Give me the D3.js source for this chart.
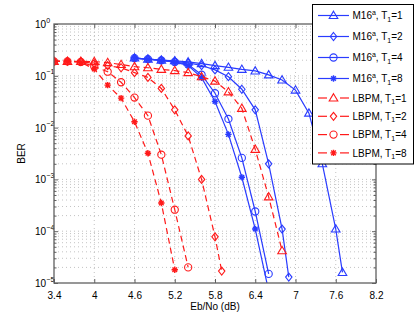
<!DOCTYPE html>
<html>
<head>
<meta charset="utf-8">
<script src="https://cdn.jsdelivr.net/npm/d3@7"></script>
<style>
  body { margin: 0; background: #fff; }
  text { font-family: "Liberation Sans", Arial, sans-serif; fill: #000; }
</style>
</head>
<body>
<svg id="chart" width="415" height="319"></svg>
<script>
// ---- data ----
var xTicks = [3.4, 4, 4.6, 5.2, 5.8, 6.4, 7, 7.6, 8.2];
var yTicks = [1e-5, 1e-4, 1e-3, 1e-2, 1e-1, 1];
var yExps  = ["\u22125", "\u22124", "\u22123", "\u22122", "\u22121", "0"];

// M16a curves (blue, solid)
var ebnoM1 = [4.6, 4.8, 5.0, 5.2, 5.4, 5.6, 5.8, 6.0, 6.2, 6.4, 6.6, 6.8, 7.0, 7.2, 7.4, 7.6, 7.7];
var berM1  = [0.22, 0.21, 0.2, 0.195, 0.185, 0.172, 0.157, 0.146, 0.133, 0.124, 0.104, 0.083, 0.053, 0.019, 0.002, 1.1e-4, 1.6e-5];
var ebnoM2 = [4.6, 4.8, 5.0, 5.2, 5.4, 5.6, 5.8, 6.0, 6.2, 6.4, 6.6, 6.8, 6.9];
var berM2  = [0.22, 0.21, 0.2, 0.19, 0.178, 0.158, 0.13, 0.096, 0.055, 0.022, 0.002, 1.1e-4, 1.3e-5];
var ebnoM4 = [4.6, 4.8, 5.0, 5.2, 5.4, 5.6, 5.8, 6.0, 6.2, 6.4, 6.6];
var berM4  = [0.22, 0.21, 0.198, 0.185, 0.165, 0.105, 0.046, 0.0147, 0.0026, 2.4e-4, 1.5e-5];
var ebnoM8 = [4.6, 4.8, 5.0, 5.2, 5.4, 5.6, 5.8, 6.0, 6.2, 6.4, 6.6];
var berM8  = [0.22, 0.21, 0.198, 0.183, 0.158, 0.092, 0.032, 0.0074, 1.1e-3, 1.1e-4, 7e-6];

// LBPM curves (red, dashed)
var ebnoL1 = [3.4, 3.6, 3.8, 4.0, 4.2, 4.4, 4.6, 4.8, 5.0, 5.2, 5.4, 5.6, 5.8, 6.0, 6.2, 6.4, 6.6, 6.8];
var berL1  = [0.19, 0.19, 0.19, 0.188, 0.18, 0.165, 0.15, 0.143, 0.133, 0.126, 0.115, 0.096, 0.079, 0.049, 0.0235, 0.0038, 4.6e-4, 4.2e-5];
var ebnoL2 = [3.4, 3.6, 3.8, 4.0, 4.2, 4.4, 4.6, 4.8, 5.0, 5.2, 5.4, 5.6, 5.8, 5.9];
var berL2  = [0.19, 0.19, 0.188, 0.172, 0.157, 0.143, 0.115, 0.093, 0.057, 0.022, 0.0069, 1.0e-3, 7.8e-5, 1.7e-5];
var ebnoL4 = [3.4, 3.6, 3.8, 4.0, 4.2, 4.4, 4.6, 4.8, 5.0, 5.2, 5.4];
var berL4  = [0.19, 0.19, 0.185, 0.152, 0.12, 0.075, 0.038, 0.017, 0.003, 2.6e-4, 2.0e-5];
var ebnoL8 = [3.4, 3.6, 3.8, 4.0, 4.2, 4.4, 4.6, 4.8, 5.0, 5.2];
var berL8  = [0.19, 0.19, 0.183, 0.135, 0.066, 0.037, 0.013, 0.0032, 3.5e-4, 1.8e-5];

var seriesNames = ["M16", "M16", "M16", "M16", "LBPM", "LBPM", "LBPM", "LBPM"];
var seriesT     = ["1", "2", "4", "8", "1", "2", "4", "8"];

var BLUE = "#2a3cff", RED = "#ff1a1a";
var series = [
  {x: ebnoM1, y: berM1, c: BLUE, m: "tri",  dash: null},
  {x: ebnoM2, y: berM2, c: BLUE, m: "dia",  dash: null},
  {x: ebnoM4, y: berM4, c: BLUE, m: "circ", dash: null},
  {x: ebnoM8, y: berM8, c: BLUE, m: "star", dash: null},
  {x: ebnoL1, y: berL1, c: RED,  m: "tri",  dash: "6,4"},
  {x: ebnoL2, y: berL2, c: RED,  m: "dia",  dash: "6,4"},
  {x: ebnoL4, y: berL4, c: RED,  m: "circ", dash: "6,4"},
  {x: ebnoL8, y: berL8, c: RED,  m: "star", dash: "6,4"}
];

// ---- layout ----
var L = 54, R = 376, T = 24, B = 283;
var svg = d3.select("#chart");
var x = d3.scaleLinear().domain([3.4, 8.2]).range([L, R]);
var y = d3.scaleLog().domain([1e-5, 1]).range([B, T]);

// minor log values 2..9 per decade
var yMinor = [];
yTicks.slice(0, -1).forEach(function (d) {
  for (var k = 2; k <= 9; k++) yMinor.push(d * k);
});

// grid (dotted)
var grid = svg.append("g").attr("stroke", "#b4b4b4").attr("stroke-width", 0.8)
  .attr("stroke-dasharray", "1,3").attr("fill", "none");
grid.selectAll(".gx").data(xTicks.slice(1, -1)).enter().append("line")
  .attr("x1", function (d) { return x(d); }).attr("x2", function (d) { return x(d); })
  .attr("y1", T).attr("y2", B);
grid.selectAll(".gy").data(yTicks.slice(1, -1).concat(yMinor)).enter().append("line")
  .attr("y1", function (d) { return y(d); }).attr("y2", function (d) { return y(d); })
  .attr("x1", L).attr("x2", R);

// axes, ticks pointing inward (box on)
var axisColor = "#606060";
function styleAxis(g) {
  g.select(".domain").remove();
  g.selectAll(".tick line").attr("stroke", axisColor);
  g.selectAll("text").attr("font-size", 10).attr("fill", "#000");
}
svg.append("g").attr("transform", "translate(0," + B + ")")
  .call(d3.axisBottom(x).tickValues(xTicks).tickSize(-4).tickPadding(9).tickFormat(d3.format("~g")))
  .call(styleAxis);
svg.append("g").attr("transform", "translate(0," + T + ")")
  .call(d3.axisTop(x).tickValues(xTicks).tickSize(-4).tickFormat(""))
  .call(styleAxis);
svg.append("g").attr("transform", "translate(" + L + ",0)")
  .call(d3.axisLeft(y).tickValues(yTicks).tickSize(-4).tickFormat(""))
  .call(styleAxis);
svg.append("g").attr("transform", "translate(" + R + ",0)")
  .call(d3.axisRight(y).tickValues(yTicks).tickSize(-4).tickFormat(""))
  .call(styleAxis);
svg.append("g").attr("transform", "translate(" + L + ",0)")
  .call(d3.axisLeft(y).tickValues(yMinor).tickSize(-2.5).tickFormat(""))
  .call(styleAxis);
svg.append("g").attr("transform", "translate(" + R + ",0)")
  .call(d3.axisRight(y).tickValues(yMinor).tickSize(-2.5).tickFormat(""))
  .call(styleAxis);

// y labels 10^n
var yl = svg.append("g");
yTicks.forEach(function (d, i) {
  yl.append("text").attr("x", 46).attr("y", y(d) + 4).attr("text-anchor", "end")
    .attr("font-size", 10).text("10");
  yl.append("text").attr("x", 46.3).attr("y", y(d) - 1.5)
    .attr("font-size", 7).text(yExps[i]);
});

svg.append("text").attr("x", (L + R) / 2).attr("y", 310).attr("text-anchor", "middle")
  .attr("font-size", 10).text("Eb/No (dB)");
svg.append("text").attr("transform", "translate(25," + (T + B) / 2 + ") rotate(-90)")
  .attr("text-anchor", "middle").attr("font-size", 10).text("BER");

// markers
function drawMarker(g, type, cx, cy, color) {
  if (type === "tri") {
    g.append("path").attr("d", "M" + cx + "," + (cy - 4.3) + "L" + (cx + 4.3) + "," + (cy + 3) +
      "L" + (cx - 4.3) + "," + (cy + 3) + "Z")
      .attr("fill", "none").attr("stroke", color).attr("stroke-width", 1.1);
  } else if (type === "dia") {
    g.append("path").attr("d", "M" + cx + "," + (cy - 4) + "L" + (cx + 3.2) + "," + cy +
      "L" + cx + "," + (cy + 4) + "L" + (cx - 3.2) + "," + cy + "Z")
      .attr("fill", "none").attr("stroke", color).attr("stroke-width", 1.1);
  } else if (type === "circ") {
    g.append("circle").attr("cx", cx).attr("cy", cy).attr("r", 3.6)
      .attr("fill", "none").attr("stroke", color).attr("stroke-width", 1.1);
  } else {
    var r = 3.2, q = 2.3;
    g.append("path").attr("d",
      "M" + (cx - r) + "," + cy + "L" + (cx + r) + "," + cy +
      "M" + cx + "," + (cy - r) + "L" + cx + "," + (cy + r) +
      "M" + (cx - q) + "," + (cy - q) + "L" + (cx + q) + "," + (cy + q) +
      "M" + (cx - q) + "," + (cy + q) + "L" + (cx + q) + "," + (cy - q))
      .attr("stroke", color).attr("stroke-width", 1.4);
  }
}

svg.append("clipPath").attr("id", "clip").append("rect")
  .attr("x", L).attr("y", T).attr("width", R - L).attr("height", B - T);
var plot = svg.append("g").attr("clip-path", "url(#clip)");
var line = d3.line().x(function (d) { return x(d[0]); }).y(function (d) { return y(d[1]); });

series.forEach(function (s) {
  var pts = s.x.map(function (v, i) { return [v, s.y[i]]; });
  var g = plot.append("g");
  g.append("path").datum(pts).attr("d", line).attr("fill", "none")
    .attr("stroke", s.c).attr("stroke-width", 1.2)
    .attr("stroke-dasharray", s.dash);
  pts.forEach(function (p) { drawMarker(g, s.m, x(p[0]), y(p[1]), s.c); });
});

// box
svg.append("rect").attr("x", L).attr("y", T).attr("width", R - L).attr("height", B - T)
  .attr("fill", "none").attr("stroke", axisColor).attr("stroke-width", 1.3);

// legend
var lg = svg.append("g");
lg.append("rect").attr("x", 312.5).attr("y", 4.5).attr("width", 101).attr("height", 159.5)
  .attr("fill", "#fff").attr("stroke", "#000").attr("stroke-width", 1);
var rowY = [15.5, 36.5, 57.5, 78.5, 98, 116.3, 134.6, 152.9];
series.forEach(function (s, i) {
  var ly = rowY[i];
  if (s.dash) {
    lg.append("line").attr("x1", 318).attr("x2", 327).attr("y1", ly).attr("y2", ly)
      .attr("stroke", s.c).attr("stroke-width", 1.2);
    lg.append("line").attr("x1", 340).attr("x2", 349).attr("y1", ly).attr("y2", ly)
      .attr("stroke", s.c).attr("stroke-width", 1.2);
  } else {
    lg.append("line").attr("x1", 318).attr("x2", 349).attr("y1", ly).attr("y2", ly)
      .attr("stroke", s.c).attr("stroke-width", 1.2);
  }
  drawMarker(lg, s.m, 333.5, ly, s.c);
  var t = lg.append("text").attr("x", 352.5).attr("y", ly + 3.6).attr("font-size", 10);
  t.append("tspan").text(seriesNames[i]);
  if (seriesNames[i] === "M16") {
    t.append("tspan").attr("font-size", 7).attr("dy", -4).text("a");
    t.append("tspan").attr("dy", 4).text(", T");
  } else {
    t.append("tspan").text(", T");
  }
  t.append("tspan").attr("font-size", 7).attr("dy", 2.5).text("1");
  t.append("tspan").attr("dy", -2.5).text("=" + seriesT[i]);
});
</script>
</body>
</html>
